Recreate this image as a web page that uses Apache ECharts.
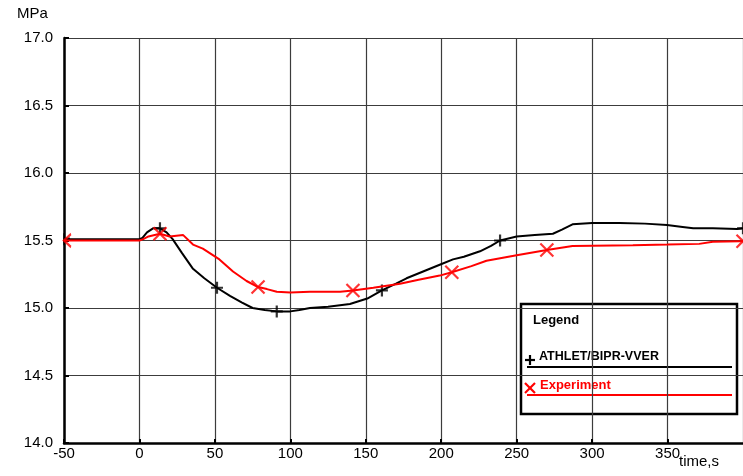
<!DOCTYPE html>
<html>
<head>
<meta charset="utf-8">
<script src="https://cdn.jsdelivr.net/npm/echarts@6/dist/echarts.min.js"></script>
<style>html,body{margin:0;padding:0;background:#fff}#c{width:743px;height:476px}</style>
</head>
<body>
<div id="c"></div>
<script>
// ---- data ----
var xTicks = [-50, 0, 50, 100, 150, 200, 250, 300, 350, 400];
var yTicks = [14.0, 14.5, 15.0, 15.5, 16.0, 16.5, 17.0];

var athletT = [-50, 0, 2, 5, 9, 13.6, 18, 22, 28, 35.5, 43, 51.4, 60, 68, 75, 83, 91, 100, 106, 113, 125, 139.5, 151, 160.7, 170, 177, 188, 199, 207.8, 215, 225.7, 233, 239, 250, 262, 274, 280, 287, 300, 318, 335, 349.6, 360, 367, 380, 396, 400];
var athletP = [15.51, 15.51, 15.52, 15.56, 15.59, 15.59, 15.56, 15.51, 15.41, 15.29, 15.22, 15.15, 15.09, 15.04, 15.0, 14.985, 14.975, 14.975, 14.985, 15.0, 15.01, 15.03, 15.07, 15.13, 15.18, 15.22, 15.27, 15.32, 15.36, 15.38, 15.42, 15.46, 15.50, 15.53, 15.54, 15.55, 15.58, 15.62, 15.63, 15.63, 15.625, 15.615, 15.60, 15.59, 15.59, 15.585, 15.59];
var athletMarkT = [-50, 13.6, 51.4, 91, 160.7, 239, 400];
var athletMarkP = [15.51, 15.59, 15.15, 14.975, 15.13, 15.50, 15.59];

var expT = [-50, 0, 2.5, 6, 13.6, 20, 29, 35.5, 42, 53, 62, 71, 78.6, 84.5, 91, 100, 113, 133, 141.5, 155, 172.7, 185, 199, 207, 220, 230, 250, 270, 287, 327, 350, 371, 380, 398, 400];
var expP = [15.5, 15.5, 15.51, 15.53, 15.55, 15.53, 15.54, 15.47, 15.44, 15.36, 15.27, 15.2, 15.155, 15.14, 15.12, 15.115, 15.12, 15.12, 15.13, 15.15, 15.18, 15.21, 15.24, 15.265, 15.31, 15.35, 15.39, 15.43, 15.46, 15.465, 15.47, 15.475, 15.49, 15.495, 15.495];
var expMarkT = [-50, 13.6, 78.6, 141.5, 207, 270, 400];
var expMarkP = [15.5, 15.55, 15.155, 15.13, 15.265, 15.43, 15.495];

var legendNames = ['ATHLET/BIPR-VVER', 'Experiment'];
var axisTitles = ['time,s', 'MPa'];
// --------------------------------------

function zip(a, b) { return a.map(function (v, i) { return [v, b[i]]; }); }

var FONT = 'Liberation Sans, Arial, sans-serif';
var PLUS = 'path://M5,0L5,10M0,5L10,5';
var CROSS = 'path://M0,0L10,10M10,0L0,10';
var HALFCROSS = 'path://M10,0L0,5L10,10';

var expMarks = zip(expMarkT, expMarkP).map(function (p, i) {
  if (i === 0) return { value: p, symbol: HALFCROSS, symbolSize: [7, 13], symbolOffset: [3.5, 0] };
  return { value: p };
});
var athletMarks = zip(athletMarkT, athletMarkP).map(function (p, i) {
  if (i === 0) return { value: p, symbol: 'path://M0,0L0,10M0,5L5,5', symbolSize: [6, 12], symbolOffset: [3, 0] };
  return { value: p };
});

var chart = echarts.init(document.getElementById('c'));
chart.setOption({
  animation: false,
  backgroundColor: '#fff',
  grid: { left: 64, right: 0, top: 38, bottom: 33, containLabel: false },
  xAxis: {
    type: 'value', min: xTicks[0], max: xTicks[xTicks.length - 1], interval: 50,
    axisLine: { onZero: false, lineStyle: { color: '#000', width: 2.5 } },
    axisTick: { inside: true, length: 4, lineStyle: { color: '#000', width: 2 } },
    axisLabel: { fontFamily: FONT, fontSize: 15, color: '#000', margin: 3, showMaxLabel: false,
      formatter: function (v) { return v === 400 ? '' : String(v); } },
    splitLine: { show: true, lineStyle: { color: '#3c3c3c', width: 1.2 } }
  },
  yAxis: {
    type: 'value', min: yTicks[0], max: yTicks[yTicks.length - 1], interval: 0.5,
    axisLine: { show: true, onZero: false, lineStyle: { color: '#000', width: 2.5 } },
    axisTick: { show: true, inside: true, length: 5, lineStyle: { color: '#000', width: 2 } },
    axisLabel: { fontFamily: FONT, fontSize: 15, color: '#000', margin: 11,
      formatter: function (v) { return v.toFixed(1); } },
    splitLine: { show: true, lineStyle: { color: '#3c3c3c', width: 1.2 } }
  },
  series: [
    { name: legendNames[0], type: 'line', data: zip(athletT, athletP), symbol: 'none', smooth: false,
      lineStyle: { color: '#000', width: 2 }, z: 3 },
    { name: legendNames[0] + ' markers', type: 'scatter', data: athletMarks, symbol: PLUS, symbolSize: 12,
      itemStyle: { color: 'transparent', borderColor: '#000', borderWidth: 2.2 }, z: 4 },
    { name: legendNames[1], type: 'line', data: zip(expT, expP), symbol: 'none', smooth: false,
      lineStyle: { color: '#ff0000', width: 2 }, z: 5 },
    { name: legendNames[1] + ' markers', type: 'scatter', data: expMarks, symbol: CROSS, symbolSize: 13,
      itemStyle: { color: 'transparent', borderColor: '#ff0000', borderWidth: 2.2 }, z: 6 }
  ],
  graphic: [
    { type: 'text', x: 17, y: 14, style: { text: axisTitles[1], font: '15px ' + FONT, fill: '#000', textVerticalAlign: 'middle' } },
    { type: 'text', x: 679, y: 462, style: { text: axisTitles[0], font: '15px ' + FONT, fill: '#000', textVerticalAlign: 'middle' } },
    { type: 'group', z: 100, children: [
      { type: 'rect', shape: { x: 521, y: 304, width: 216, height: 110 },
        style: { fill: '#fff', stroke: '#000', lineWidth: 2.5 } },
      { type: 'text', x: 533, y: 320, style: { text: 'Legend', font: 'bold 13px ' + FONT, fill: '#000', textVerticalAlign: 'middle' } },
      { type: 'line', shape: { x1: 525, y1: 360, x2: 535, y2: 360 }, style: { stroke: '#000', lineWidth: 2.2 } },
      { type: 'line', shape: { x1: 530, y1: 355, x2: 530, y2: 365 }, style: { stroke: '#000', lineWidth: 2.2 } },
      { type: 'text', x: 539, y: 357, style: { text: legendNames[0], font: 'bold 12.5px ' + FONT, fill: '#000', textVerticalAlign: 'middle' } },
      { type: 'line', shape: { x1: 527, y1: 367, x2: 732, y2: 367 }, style: { stroke: '#000', lineWidth: 2 } },
      { type: 'line', shape: { x1: 525, y1: 383, x2: 535, y2: 393 }, style: { stroke: '#ff0000', lineWidth: 2.2 } },
      { type: 'line', shape: { x1: 535, y1: 383, x2: 525, y2: 393 }, style: { stroke: '#ff0000', lineWidth: 2.2 } },
      { type: 'text', x: 540, y: 385, style: { text: legendNames[1], font: 'bold 13px ' + FONT, fill: '#ff0000', textVerticalAlign: 'middle' } },
      { type: 'line', shape: { x1: 527, y1: 395, x2: 732, y2: 395 }, style: { stroke: '#ff0000', lineWidth: 2 } }
    ] }
  ]
});
</script>
</body>
</html>
